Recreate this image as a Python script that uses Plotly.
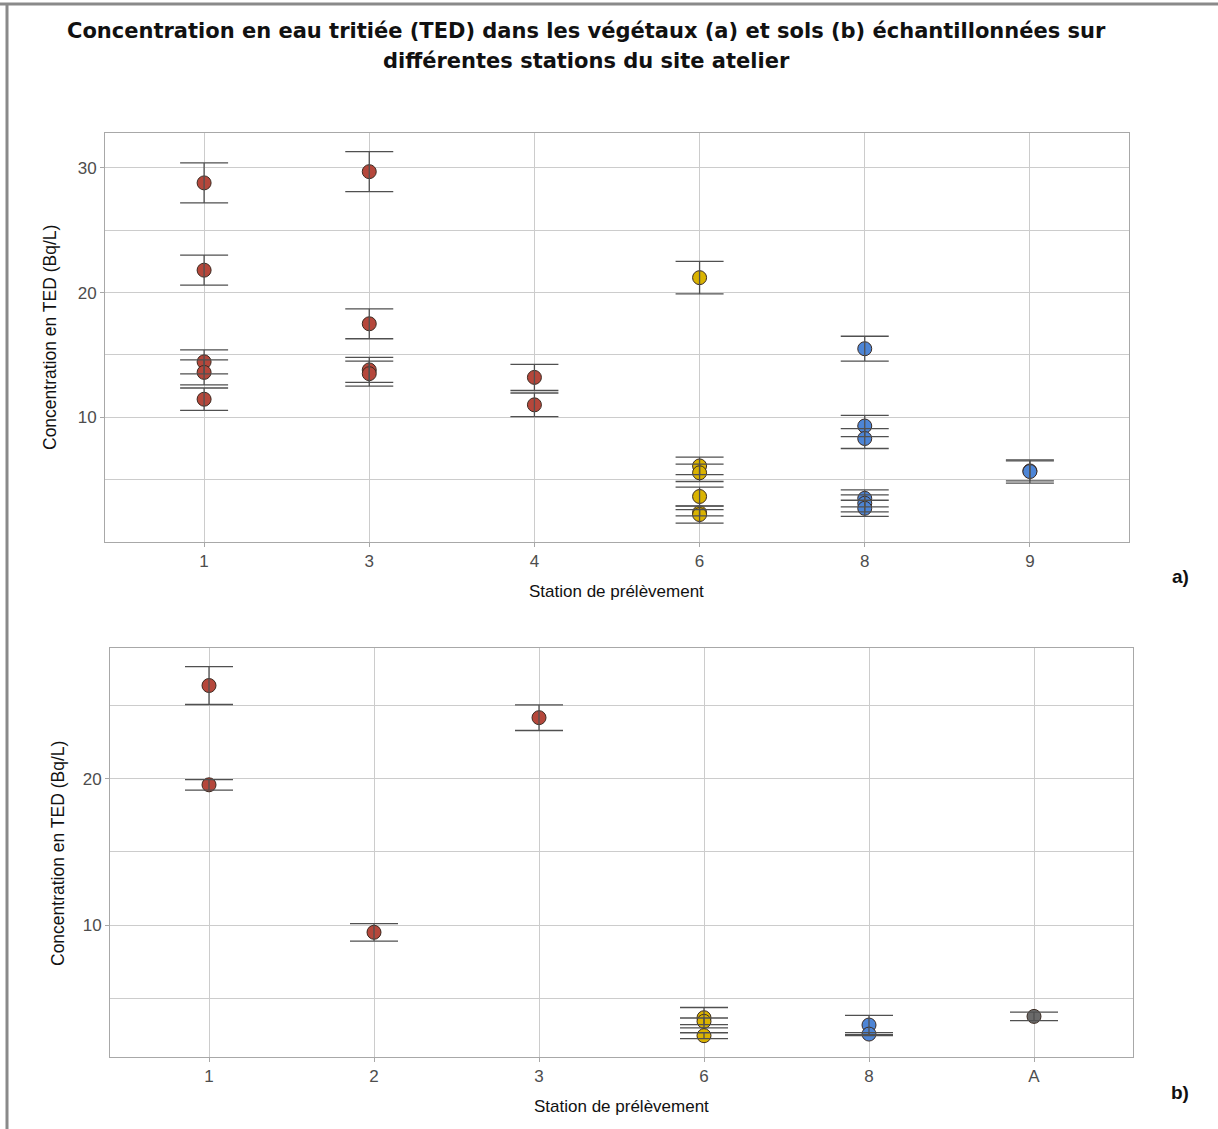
import plotly.graph_objects as go

# ---------------- data ----------------
# a) végétaux
categories_a = ["1", "3", "4", "6", "8", "9"]
stations_a = ["1", "1", "1", "1", "1",
              "3", "3", "3", "3",
              "4", "4",
              "6", "6", "6", "6", "6", "6",
              "8", "8", "8", "8", "8", "8",
              "9", "9"]
values_a = [28.8, 21.8, 14.45, 13.6, 11.45,
            29.7, 17.5, 13.8, 13.5,
            13.2, 11.0,
            21.2, 6.1, 5.55, 3.65, 2.35, 2.2,
            15.5, 9.3, 8.3, 3.5, 3.1, 2.7,
            5.7, 5.65]
errors_a = [1.6, 1.2, 0.96, 1.0, 0.9,
            1.6, 1.2, 1.0, 1.0,
            1.05, 0.95,
            1.3, 0.7, 0.7, 0.75, 0.25, 0.68,
            1.0, 0.85, 0.8, 0.68, 0.68, 0.65,
            0.8, 0.93]
groups_a = ["rouge"] * 11 + ["jaune"] * 6 + ["bleu"] * 8

# b) sols
categories_b = ["1", "2", "3", "6", "8", "A"]
stations_b = ["1", "1", "2", "3", "6", "6", "6", "8", "8", "A"]
values_b = [26.4, 19.6, 9.5, 24.2, 3.65, 3.4, 2.42, 3.15, 2.53, 3.74]
errors_b = [1.3, 0.36, 0.6, 0.88, 0.7, 0.23, 0.2, 0.66, 0.1, 0.29]
groups_b = ["rouge", "rouge", "rouge", "rouge", "jaune", "jaune", "jaune",
            "bleu", "bleu", "gris"]

y_major = [10, 20, 30]
y_minor = [5, 15, 25]

# ---------------- style ----------------
palette = {"rouge": "#B5473B", "jaune": "#DAB300", "bleu": "#4D85D6", "gris": "#6A6A6A"}
FONT = "Liberation Sans, Arial, sans-serif"
TITLE_FONT = "DejaVu Sans, Liberation Sans, Arial, sans-serif"
W, H = 1218, 1129
grid_col = "#CCCCCC"
err_col = "#505050"

fig = go.Figure()


def add_panel(xs, ys, es, gs, xa, ya):
    fig.add_trace(go.Scatter(
        x=xs, y=ys, mode="markers", xaxis=xa, yaxis=ya, showlegend=False,
        marker=dict(size=14, color=[palette[g] for g in gs],
                    line=dict(color="#3b2b22", width=1)),
        hoverinfo="x+y",
    ))
    fig.add_trace(go.Scatter(
        x=xs, y=ys, mode="markers", xaxis=xa, yaxis=ya, showlegend=False,
        marker=dict(size=1, opacity=0),
        error_y=dict(type="data", array=es, visible=True, color=err_col,
                     thickness=1.3, width=24),
        hoverinfo="skip",
    ))


add_panel(stations_a, values_a, errors_a, groups_a, "x", "y")
add_panel(stations_b, values_b, errors_b, groups_b, "x2", "y2")


def xaxis(domain, cats):
    return dict(domain=domain, type="category", categoryorder="array",
                categoryarray=cats, range=[-0.6, len(cats) - 0.4],
                showline=True, mirror=True, linecolor="#A8A8A8", linewidth=1,
                showgrid=True, gridcolor=grid_col, gridwidth=1,
                ticks="outside", ticklen=4, tickcolor="#A8A8A8",
                tickfont=dict(family=FONT, size=17, color="#4D4D4D"),
                zeroline=False, fixedrange=True)


def yaxis(domain, rng, anchor):
    return dict(domain=domain, range=rng, anchor=anchor,
                tickvals=y_major, ticktext=[str(v) for v in y_major],
                showline=True, mirror=True, linecolor="#A8A8A8", linewidth=1,
                showgrid=True, gridcolor=grid_col, gridwidth=1,
                minor=dict(tickvals=y_minor, showgrid=True, gridcolor=grid_col,
                           gridwidth=1, ticks=""),
                ticks="outside", ticklen=4, tickcolor="#A8A8A8",
                tickfont=dict(family=FONT, size=17, color="#4D4D4D"),
                zeroline=False, fixedrange=True)


def px_x(p):
    return p / W


def px_y(p):
    return 1 - p / H


fig.update_layout(
    width=W, height=H,
    margin=dict(l=0, r=0, t=0, b=0),
    paper_bgcolor="white", plot_bgcolor="white",
    xaxis=dict(xaxis([px_x(105), px_x(1129)], categories_a), anchor="y"),
    yaxis=yaxis([px_y(542), px_y(133)], [0, 32.8], "x"),
    xaxis2=dict(xaxis([px_x(110), px_x(1133)], categories_b), anchor="y2"),
    yaxis2=yaxis([px_y(1056.7), px_y(648.3)], [0.98, 28.95], "x2"),
)

ann = [
    dict(text="<b>Concentration en eau tritiée (TED) dans les végétaux (a) et sols (b) échantillonnées sur</b>",
         x=px_x(586), y=px_y(31), font=dict(size=21, family=TITLE_FONT)),
    dict(text="<b>différentes stations du site atelier</b>",
         x=px_x(586), y=px_y(61), font=dict(size=21, family=TITLE_FONT)),
    dict(text="Station de prélèvement", x=px_x(616), y=px_y(591), font=dict(size=17)),
    dict(text="Station de prélèvement", x=px_x(621), y=px_y(1106), font=dict(size=17)),
    dict(text="Concentration en TED (Bq/L)", x=px_x(50), y=px_y(338), textangle=-90,
         font=dict(size=17.5)),
    dict(text="Concentration en TED (Bq/L)", x=px_x(58), y=px_y(854), textangle=-90,
         font=dict(size=17.5)),
    dict(text="<b>a)</b>", x=px_x(1180), y=px_y(576), font=dict(size=19)),
    dict(text="<b>b)</b>", x=px_x(1180), y=px_y(1092), font=dict(size=19)),
]
for a in ann:
    f = dict(family=FONT, color="#111111")
    f.update(a.pop("font"))
    fig.add_annotation(xref="paper", yref="paper", showarrow=False,
                       xanchor="center", yanchor="middle", font=f, **a)

# image frame (left and top edges)
fig.add_shape(type="line", xref="paper", yref="paper", x0=px_x(7), x1=px_x(7),
              y0=0, y1=px_y(4), line=dict(color="#8A8A8A", width=3))
fig.add_shape(type="line", xref="paper", yref="paper", x0=0, x1=1,
              y0=px_y(4), y1=px_y(4), line=dict(color="#8A8A8A", width=3))

fig.write_html("out.html",
               config={"displayModeBar": False},
               post_script="document.body.style.margin='0';document.body.style.overflow='hidden';")
